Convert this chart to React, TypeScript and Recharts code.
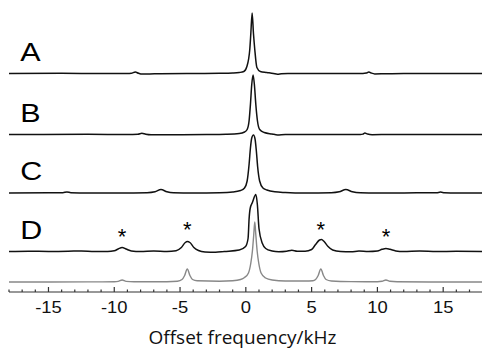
import { ComposedChart, Line, Scatter, XAxis, YAxis } from 'recharts';

document.body.style.margin = '0';

const freqTicks = [
  -18, -17, -16, -15, -14, -13, -12, -11, -10, -9, -8, -7, -6, -5, -4, -3, -2, -1,
  0, 1, 2, 3, 4, 5, 6, 7, 8, 9, 10, 11, 12, 13, 14, 15, 16, 17,
];
const majorTicks = [-15, -10, -5, 0, 5, 10, 15];

// [offset frequency (kHz), intensity above the trace's own baseline]
const traceA: [number, number][] = [
  [-18, 0], [-14, 0.2], [-11, 0], [-9, 0], [-8.7, 0.2], [-8.4, 1.5], [-8.15, 0.2],
  [-7.9, -0.6], [-7.3, -0.5], [-6.5, -0.2], [-4, 0], [-2, 0.2], [-1, 0.5], [-0.5, 1],
  [-0.15, 2], [0.08, 7], [0.3, 24], [0.38, 40], [0.48, 60.5], [0.58, 40], [0.68, 24],
  [0.84, 6], [1.1, 2], [1.6, 1], [2.1, 0], [2.4, -0.7], [2.7, -0.3], [3.2, 0], [6, 0],
  [8.9, 0], [9.15, 0.4], [9.35, 1.6], [9.55, 0.4], [9.8, -0.4], [10.5, -0.3], [12, 0],
  [15, 0.1], [18, 0],
];

const traceB: [number, number][] = [
  [-18, 0], [-12, 0.2], [-9, 0], [-8.2, 0.2], [-7.9, 1.3], [-7.6, 0.2], [-7.2, -0.3],
  [-6, -0.2], [-3, 0], [-1.5, 0.3], [-0.5, 1], [-0.1, 2.5], [0.1, 5], [0.25, 14],
  [0.35, 30], [0.45, 50], [0.55, 59.5], [0.65, 50], [0.76, 30], [0.88, 14], [1.05, 5],
  [1.4, 2], [2, 0.5], [2.4, -0.4], [3, 0], [6, 0], [8.7, 0], [8.9, 0.4], [9.05, 1.4],
  [9.25, 0.4], [9.6, -0.2], [11, 0], [18, 0],
];

const traceC: [number, number][] = [
  [-18, 0], [-15, 0.2], [-13.9, 0.3], [-13.6, 1], [-13.3, 0.3], [-12, 0], [-9, 0.1],
  [-7.5, 0.3], [-6.9, 1.2], [-6.45, 3.5], [-6.0, 1.2], [-5.5, 0.2], [-4, 0], [-2, 0.3],
  [-1, 1], [-0.4, 2.5], [-0.1, 5], [0.1, 12], [0.25, 29], [0.35, 45], [0.45, 55],
  [0.58, 58], [0.7, 54], [0.8, 42], [0.9, 26], [1.05, 12], [1.3, 5], [1.6, 3],
  [2.2, 1.2], [3, 0.5], [4.5, 0], [6.5, 0.3], [7.1, 1.2], [7.6, 3.5], [8.1, 1.2],
  [8.7, 0.2], [10, 0], [13, 0.2], [14.5, 0.3], [14.8, 0.9], [15.1, 0.3], [16, 0], [18, 0],
];

const traceD: [number, number][] = [
  [-18, 0], [-16.5, 0.3], [-15, 0], [-13.5, 0.2], [-12.5, 0.6], [-11.5, 0], [-10.5, 0],
  [-10, 0.7], [-9.7, 2.5], [-9.4, 4], [-9.1, 2.5], [-8.7, 0.6], [-8, 0], [-7, 0.4],
  [-6, 0], [-5.3, 0.8], [-4.9, 4], [-4.6, 9], [-4.45, 10], [-4.25, 9], [-3.95, 4],
  [-3.6, 1], [-3.1, -0.5], [-2.3, -0.8], [-1.65, 0], [-0.5, 1.5], [-0.02, 5],
  [0.17, 13], [0.25, 33], [0.33, 43], [0.5, 49], [0.76, 57], [0.88, 46.5], [1.0, 23],
  [1.26, 8], [1.51, 3], [2, 0.5], [2.5, -0.3], [3.1, 0.2], [3.5, 1.2], [3.9, 0.2],
  [4.5, 0.3], [5.0, 2], [5.3, 7], [5.6, 11.5], [5.75, 12], [5.95, 10], [6.25, 5],
  [6.6, 1.5], [7.2, 0], [8, -0.3], [8.6, 0.5], [9.3, 0], [10, 0.5], [10.35, 2.2],
  [10.65, 3], [10.95, 2.2], [11.4, 0.6], [12, 0], [13.2, 0.4], [14.5, 0], [16, 0.2],
  [18, 0],
];

const simulated: [number, number][] = [
  [-18, 0], [-12, 0.1], [-10, 0.2], [-9.7, 0.6], [-9.4, 2], [-9.1, 0.6], [-8.5, 0.2],
  [-6, 0.3], [-5.2, 0.8], [-4.85, 2.5], [-4.65, 6.5], [-4.45, 13], [-4.25, 6.5],
  [-4.05, 2.5], [-3.7, 1.2], [-2, 0.8], [-1, 1.2], [-0.4, 2.5], [-0.1, 4.5], [0.2, 9],
  [0.38, 19], [0.5, 31], [0.6, 47], [0.68, 60], [0.76, 47], [0.86, 31], [0.98, 19],
  [1.16, 9], [1.5, 4], [2, 2], [3, 1], [4.5, 1], [5.1, 1.2], [5.3, 2.5], [5.5, 6.5],
  [5.7, 13], [5.9, 6.5], [6.1, 2.5], [6.5, 1], [8, 0.4], [10, 0.3], [10.35, 0.7],
  [10.65, 2], [10.95, 0.7], [11.5, 0.2], [14, 0], [18, 0],
];

const traceNames = ['A', 'B', 'C', 'D'];
const sidebandFreqs = [-9.4, -4.45, 5.7, 10.65];
const sidebandMarkHeights = [19.5, 26.5, 26.5, 19.5];

// vertical stacking of the traces (A, B, C, D, simulation)
const stackOffsets = [218.5, 157.5, 99, 40.5, 10];

const toPoints = (trace: [number, number][], offset: number) =>
  trace.map(([x, y]) => ({ x, y: y + offset }));

const spectra = [traceA, traceB, traceC, traceD].map((t, i) => toPoints(t, stackOffsets[i]));
const simPoints = toPoints(simulated, stackOffsets[4]);

const labelPoints = traceNames.map((name, i) => ({ x: -17.15, y: stackOffsets[i] + 13, name }));
const starPoints = sidebandFreqs.map((x, i) => ({ x, y: stackOffsets[3] + sidebandMarkHeights[i] }));

const FreqTick = (props: any) => {
  const { x, y, payload } = props;
  const major = majorTicks.includes(payload.value);
  return (
    <g>
      <line x1={x} x2={x} y1={y} y2={y - (major ? 5 : 2.5)} stroke="#333" strokeWidth={1.2} />
      {major && (
        <text
          transform={`translate(${x},${y + 21}) scale(1.15,1)`}
          textAnchor="middle"
          fontFamily="'Liberation Sans', Arial, sans-serif"
          fontSize={16}
          fill="#111"
        >
          {payload.value}
        </text>
      )}
    </g>
  );
};

const TraceLabel = (props: any) => (
  <text
    transform={`translate(${props.cx},${props.cy}) scale(1.22,1)`}
    fontFamily="'Liberation Sans', Arial, sans-serif"
    fontSize={25}
    fill="#000"
  >
    {props.payload.name}
  </text>
);

const Star = (props: any) => (
  <text
    x={props.cx}
    y={props.cy + 11.5}
    textAnchor="middle"
    fontFamily="'Liberation Sans', Arial, sans-serif"
    fontSize={22}
    fill="#000"
  >
    *
  </text>
);

export default function App() {
  return (
    <div style={{ width: 482, height: 350, background: '#fff' }}>
      <ComposedChart width={482} height={350} margin={{ top: 0, right: 0, left: 9, bottom: 0 }}>
        <XAxis
          dataKey="x"
          type="number"
          domain={[-18, 17.95]}
          ticks={freqTicks}
          interval={0}
          allowDataOverflow
          height={58}
          tickSize={0}
          tickMargin={0}
          tickLine={false}
          axisLine={{ stroke: '#333', strokeWidth: 1.2 }}
          tick={<FreqTick />}
          label={{
            value: 'Offset frequency/kHz',
            position: 'insideBottom',
            offset: 6,
            dx: -3,
            fill: '#111',
            fontSize: 19,
            fontFamily: "'Open Sans', sans-serif",
          }}
        />
        <YAxis dataKey="y" type="number" domain={[0, 292]} hide allowDataOverflow />
        {spectra.map((pts, i) => (
          <Line
            key={i}
            data={pts}
            dataKey="y"
            type="monotone"
            stroke="#111"
            strokeWidth={1.5}
            dot={false}
            activeDot={false}
            isAnimationActive={false}
          />
        ))}
        <Line
          data={simPoints}
          dataKey="y"
          type="monotone"
          stroke="#888"
          strokeWidth={1.4}
          dot={false}
          activeDot={false}
          isAnimationActive={false}
        />
        <Scatter data={labelPoints} dataKey="y" shape={<TraceLabel />} isAnimationActive={false} />
        <Scatter data={starPoints} dataKey="y" shape={<Star />} isAnimationActive={false} />
      </ComposedChart>
    </div>
  );
}
